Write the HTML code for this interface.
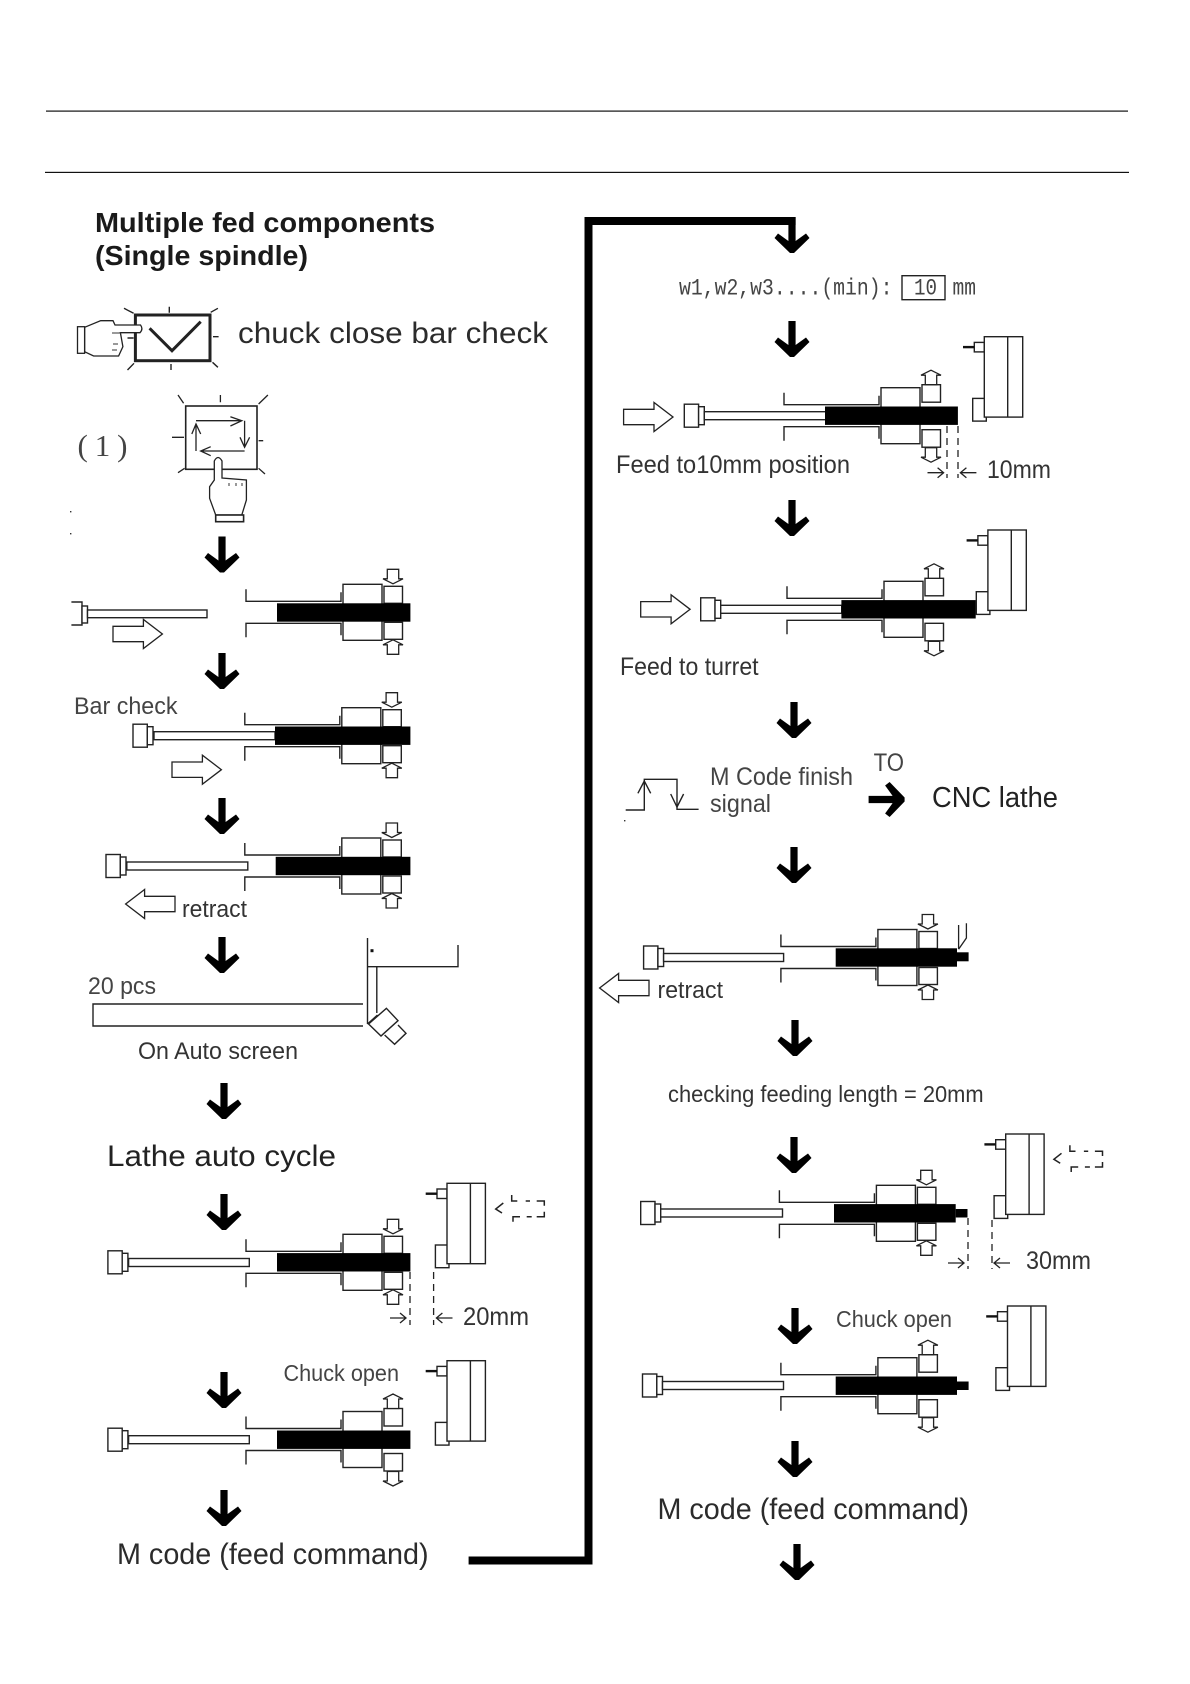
<!DOCTYPE html>
<html lang="en"><head><meta charset="utf-8"><title>Multiple fed components</title>
<style>html,body{margin:0;padding:0;background:#fff}svg{display:block}text{font-family:"Liberation Sans",sans-serif;fill:#2b2b2b}</style></head>
<body>
<svg xmlns="http://www.w3.org/2000/svg" width="1190" height="1684" viewBox="0 0 1190 1684">
<defs>
<path id="fat" d="M-3.6 0H3.6V24L14 16.5L17.5 21L2 36H-2L-17.5 21L-14 16.5L-3.6 24Z" fill="#000"/>
<path id="ha" d="M-5.7 0H5.7V9.5H10L0 14.5L-10 9.5H-5.7Z" fill="#fff" stroke="#222" stroke-width="1.3"/>
<path id="big" d="M0 -7.7H30.4V-14.5L49.4 0L30.4 14.5V7.7H0Z" fill="#fff" stroke="#222" stroke-width="1.3"/>
<path id="dash" d="M0 -3.3V-8H7.6M14.3 -8H18.6M27 -8H32.6V-14M41 -6L48.6 0L42.3 4M0 2.7V7.7H7.6M12.6 7.7H17.6M24.3 7.7H31.3V12.7" fill="none" stroke="#222" stroke-width="1.5"/>
<g id="base" fill="none" stroke="#222" stroke-width="1.4">
 <path d="M-97 -23V-11H-2V-20M-97 25V11H-2V23"/>
 <rect x="0" y="-28" width="39" height="56"/>
</g>
<g id="closed" stroke="#222" stroke-width="1.4" fill="#fff">
 <rect x="41" y="-26" width="18.5" height="17"/><rect x="41" y="10" width="18.5" height="17"/>
 <use href="#ha" x="50" y="-43"/>
 <use href="#ha" transform="translate(50,42) scale(1,-1)"/>
</g>
<g id="open" stroke="#222" stroke-width="1.4" fill="#fff">
 <rect x="41" y="-31" width="18.5" height="17.5"/><rect x="41" y="14" width="18.5" height="17.5"/>
 <use href="#ha" transform="translate(50,-31) scale(1,-1)"/>
 <use href="#ha" x="50" y="32"/>
</g>
<g id="push" fill="#fff" stroke="#222" stroke-width="1.4">
 <rect x="0" y="-11.5" width="14.3" height="23"/><rect x="14.3" y="-9" width="5.7" height="18"/>
</g>
<g id="tur" fill="#fff" stroke="#222" stroke-width="1.4">
 <rect x="-10" y="5.7" width="10" height="9.5"/>
 <rect x="-11.6" y="61.7" width="13.6" height="22.7"/>
 <rect x="0" y="0" width="38.4" height="80.4"/>
 <path d="M23.4 0V80.4" fill="none"/>
 <rect x="-21.3" y="9.2" width="11.3" height="2.4" fill="#111" stroke="none"/>
</g>
</defs>

<!-- header rules -->
<rect x="46" y="110.5" width="1082" height="1.2" fill="#111"/>
<rect x="45" y="171.8" width="1084" height="1.2" fill="#111"/>

<!-- thick connector -->
<path d="M468.6 1560.5H588.5V221H795.6" fill="none" stroke="#000" stroke-width="8"/>

<!-- heading -->
<text x="95" y="232" font-size="28" font-weight="bold" textLength="340" lengthAdjust="spacingAndGlyphs" style="fill:#1a1a1a">Multiple fed components</text>
<text x="95" y="265" font-size="28" font-weight="bold" textLength="213" lengthAdjust="spacingAndGlyphs" style="fill:#1a1a1a">(Single spindle)</text>

<!-- check button with hand -->
<g fill="none" stroke="#222" stroke-width="1.4">
 <path d="M124 308.3L133.6 313.3M169.3 306.7V312.7M210.7 312.3L217.9 308.3M213 336.7H218.6M212.5 362.3L217.9 367.3M171 364V370M127.5 370L134 363.3M127.5 338H133.6"/>
</g>
<rect x="135.4" y="315" width="74.6" height="45.7" fill="none" stroke="#222" stroke-width="3"/>
<path d="M149.6 328.3L172 350.7L200.7 321.7" fill="none" stroke="#222" stroke-width="3"/>
<path d="M84.6 327.3L100.7 320.7H113L115 325H140.5Q143.5 329 140 332.7H120.4L122.9 346.7L118.6 356H93.6L84.6 351.7Z" fill="#fff" stroke="#222" stroke-width="1.3"/>
<rect x="77.5" y="326.7" width="7.1" height="26.6" fill="#fff" stroke="#222" stroke-width="1.3"/>
<path d="M112 333H121M113 344H118M112 350H117" stroke="#333" stroke-width="1" fill="none"/>
<text x="238" y="343" font-size="30" textLength="310" lengthAdjust="spacingAndGlyphs">chuck close bar check</text>

<!-- (1) screen with hand -->
<text x="77.5" y="456" font-size="31" textLength="50" lengthAdjust="spacing" style="font-family:'Liberation Serif',serif;fill:#444">( 1 )</text>
<rect x="185.7" y="406" width="71.3" height="63.3" fill="none" stroke="#222" stroke-width="1.6"/>
<g fill="none" stroke="#222" stroke-width="1.3">
 <path d="M178 395L183.6 403.3M220.4 395V402.3M267.9 395L258.6 404M172 437.3H184M258.6 440.7H263.2M178 472.7L184.6 468.3M258.6 468.3L265 474"/>
 <path d="M196 420.7H241.8M230.4 416.7L241.8 420.7L230.4 426"/>
 <path d="M244.6 420.7V447.3M240 437.3L244.6 447.3L249.6 437.3"/>
 <path d="M244.6 451H200.7M210.7 446.7L200.7 451L210.7 455.7"/>
 <path d="M196 451V424M191.8 434L196 424L200.7 434"/>
</g>
<path d="M214.3 461Q218 454 222 461V478L246.4 480V500L241.8 515H215.7L209.6 498.3V486.7L214.3 480Z" fill="#fff" stroke="#222" stroke-width="1.3"/>
<rect x="215.7" y="515" width="27.9" height="6.7" fill="#fff" stroke="#222" stroke-width="1.6"/>
<path d="M229 483V486M236 483V486M242 483V486" stroke="#333" stroke-width="1"/>
<rect x="70" y="511" width="1.4" height="1.4" fill="#333"/><rect x="70" y="533" width="1.4" height="1.4" fill="#333"/><rect x="624" y="820" width="1.4" height="1.4" fill="#333"/>

<!-- fat down arrows -->
<use href="#fat" x="222" y="536.5"/><use href="#fat" x="222" y="653"/><use href="#fat" x="222" y="798"/><use href="#fat" x="222" y="937"/>
<use href="#fat" x="224" y="1083"/><use href="#fat" x="224" y="1194"/><use href="#fat" x="224" y="1372"/><use href="#fat" x="224" y="1490"/>
<use href="#fat" x="792" y="217"/><use href="#fat" x="792" y="321"/><use href="#fat" x="792" y="500"/><use href="#fat" x="794" y="702"/><use href="#fat" x="794" y="847"/>
<use href="#fat" x="795" y="1020"/><use href="#fat" x="794" y="1137"/><use href="#fat" x="795" y="1308"/><use href="#fat" x="795" y="1441"/><use href="#fat" x="797" y="1544"/>

<!-- A -->
<path d="M71.4 602H82V625H71.4" fill="none" stroke="#222" stroke-width="1.4"/>
<rect x="82" y="606" width="5.5" height="17" fill="#fff" stroke="#222" stroke-width="1.4"/>
<rect x="87.5" y="610" width="119.5" height="7.7" fill="#fff" stroke="#222" stroke-width="1.4"/>
<use href="#big" x="113" y="634"/>
<g transform="translate(343,612.3)"><use href="#base"/><use href="#closed"/></g>
<rect x="277" y="603.3" width="133.4" height="18.4" fill="#000"/>

<!-- B Bar check -->
<text x="74" y="714" font-size="24" textLength="103.5" lengthAdjust="spacingAndGlyphs" style="fill:#444">Bar check</text>
<use href="#push" x="133" y="735.7"/>
<rect x="154" y="731.7" width="121" height="8" fill="#fff" stroke="#222" stroke-width="1.4"/>
<use href="#big" x="172" y="769.7"/>
<g transform="translate(341.8,735.7)"><use href="#base"/><use href="#closed"/></g>
<rect x="275" y="726.5" width="135.4" height="18.4" fill="#000"/>

<!-- C retract -->
<use href="#push" x="106" y="866"/>
<rect x="126.8" y="862" width="121" height="8" fill="#fff" stroke="#222" stroke-width="1.4"/>
<use href="#big" transform="translate(175,904) scale(-1,1)"/>
<text x="182" y="917" font-size="24" textLength="65" lengthAdjust="spacingAndGlyphs" style="fill:#333">retract</text>
<g transform="translate(341.8,866)"><use href="#base"/><use href="#closed"/></g>
<rect x="275.7" y="856.8" width="134.7" height="18.4" fill="#000"/>

<!-- D 20 pcs -->
<text x="88" y="994" font-size="24" textLength="68" lengthAdjust="spacingAndGlyphs" style="fill:#444">20 pcs</text>
<g fill="none" stroke="#222" stroke-width="1.4">
 <path d="M363 1004H93V1026H363"/>
 <path d="M367.5 938V1024M376.8 966.7V1013M367.5 966.7H458V945M367.5 1024L377.5 1015"/>
 <path d="M386.4 1008.3L398 1020.7L381 1036L368.6 1024Z"/>
 <path d="M398 1025L406 1033.3L394.6 1044.3L384.6 1035"/>
</g>
<rect x="370.5" y="949.2" width="3" height="3" fill="#111"/>
<text x="138" y="1059" font-size="24" textLength="160" lengthAdjust="spacingAndGlyphs" style="fill:#333">On Auto screen</text>

<text x="107" y="1166" font-size="30" textLength="229" lengthAdjust="spacingAndGlyphs" style="fill:#222">Lathe auto cycle</text>

<!-- E -->
<use href="#push" x="107.9" y="1262.3"/>
<rect x="128.6" y="1258.5" width="120.7" height="8" fill="#fff" stroke="#222" stroke-width="1.4"/>
<g transform="translate(343,1262.3)"><use href="#base"/><use href="#closed"/></g>
<rect x="277" y="1253.1" width="133.4" height="18.4" fill="#000"/>
<use href="#tur" x="447" y="1183.3"/>
<use href="#dash" transform="translate(544.3,1209) scale(-1,1)"/>
<g fill="none" stroke="#222" stroke-width="1.3">
 <path d="M410 1272V1325M433.6 1272V1325" stroke-dasharray="7 5"/>
 <path d="M390 1318H406M400 1313L406 1318L400 1323"/>
 <path d="M436.4 1318H452.5M442.4 1313L436.4 1318L442.4 1323"/>
</g>
<text x="463" y="1325" font-size="25" textLength="66" lengthAdjust="spacingAndGlyphs" style="fill:#333">20mm</text>

<!-- F -->
<text x="283.5" y="1381" font-size="23" textLength="115.5" lengthAdjust="spacingAndGlyphs" style="fill:#444">Chuck open</text>
<use href="#push" x="107.9" y="1439.7"/>
<rect x="128.6" y="1435.7" width="120.7" height="8" fill="#fff" stroke="#222" stroke-width="1.4"/>
<g transform="translate(343,1439.5)"><use href="#base"/><use href="#open"/></g>
<rect x="277" y="1430.5" width="133.4" height="18.4" fill="#000"/>
<use href="#tur" x="447" y="1360.7"/>
<text x="117" y="1564" font-size="30" textLength="311.6" lengthAdjust="spacingAndGlyphs">M code (feed command)</text>

<!-- w1 line -->
<text x="679" y="294.5" font-size="23" textLength="213.5" lengthAdjust="spacingAndGlyphs" style="font-family:'Liberation Mono',monospace;fill:#444">w1,w2,w3....(min):</text>
<rect x="902" y="275.7" width="43" height="24" fill="none" stroke="#222" stroke-width="1.4"/>
<text x="914" y="294.5" font-size="23" textLength="23" lengthAdjust="spacingAndGlyphs" style="font-family:'Liberation Mono',monospace;fill:#444">10</text>
<text x="952.5" y="294.5" font-size="23" textLength="23.5" lengthAdjust="spacingAndGlyphs" style="font-family:'Liberation Mono',monospace;fill:#444">mm</text>

<!-- G -->
<use href="#big" x="623.6" y="417"/>
<use href="#push" x="684.3" y="415.7"/>
<rect x="704.3" y="411.7" width="122" height="8" fill="#fff" stroke="#222" stroke-width="1.4"/>
<g transform="translate(881,415.7)"><use href="#base"/><use href="#open"/></g>
<rect x="825" y="406.5" width="132.9" height="18.4" fill="#000"/>
<use href="#tur" x="984.3" y="336.7"/>
<g fill="none" stroke="#222" stroke-width="1.3">
 <path d="M947 426V478M958 426V478" stroke-dasharray="7 5"/>
 <path d="M927.5 472.7H943.6M937.6 467.7L943.6 472.7L937.6 477.7"/>
 <path d="M960.4 472.7H976.4M966.4 467.7L960.4 472.7L966.4 477.7"/>
</g>
<text x="616" y="473" font-size="25" textLength="234" lengthAdjust="spacingAndGlyphs" style="fill:#333">Feed to10mm position</text>
<text x="987" y="478" font-size="25" textLength="64" lengthAdjust="spacingAndGlyphs" style="fill:#333">10mm</text>

<!-- H -->
<use href="#big" x="640.7" y="609.3"/>
<use href="#push" x="700.7" y="609.3"/>
<rect x="720.7" y="605.3" width="121" height="8" fill="#fff" stroke="#222" stroke-width="1.4"/>
<g transform="translate(884,609.3)"><use href="#base"/><use href="#open"/></g>
<use href="#tur" x="987.9" y="530"/>
<rect x="841.4" y="600.1" width="134.3" height="18.4" fill="#000"/>
<text x="620" y="675" font-size="25" textLength="138.6" lengthAdjust="spacingAndGlyphs" style="fill:#333">Feed to turret</text>

<!-- signal -->
<g fill="none" stroke="#222" stroke-width="1.4">
 <path d="M625.7 810H644.3V779.3H677V809.3H698.6"/>
 <path d="M637.9 793.3L644.3 781L650.7 793.3M670.7 794L677 807L683.6 794"/>
</g>
<text x="710" y="785" font-size="25" textLength="143" lengthAdjust="spacingAndGlyphs" style="fill:#444">M Code finish</text>
<text x="710" y="812" font-size="25" textLength="61" lengthAdjust="spacingAndGlyphs" style="fill:#444">signal</text>
<text x="873.6" y="771" font-size="25" textLength="30.4" lengthAdjust="spacingAndGlyphs" style="fill:#444">TO</text>
<use href="#fat" transform="translate(868.6,799.5) rotate(-90)"/>
<text x="932" y="807" font-size="29" textLength="126" lengthAdjust="spacingAndGlyphs" style="fill:#222">CNC lathe</text>

<!-- I retract -->
<use href="#push" x="643.6" y="957.5"/>
<rect x="663.6" y="953.5" width="120" height="8" fill="#fff" stroke="#222" stroke-width="1.4"/>
<g transform="translate(877.9,957.5)"><use href="#base"/><use href="#closed"/></g>
<rect x="835.7" y="948.3" width="121.3" height="18.4" fill="#000"/>
<rect x="957" y="952.3" width="11.6" height="9" fill="#000"/>
<path d="M958.6 949V925M966.4 923.3V938L958.6 949.3" fill="none" stroke="#222" stroke-width="1.3"/>
<use href="#big" transform="translate(649,988) scale(-1,1)"/>
<text x="657.5" y="998" font-size="24" textLength="65.5" lengthAdjust="spacingAndGlyphs" style="fill:#333">retract</text>

<text x="668" y="1102" font-size="23" textLength="315.6" lengthAdjust="spacingAndGlyphs" style="fill:#333">checking feeding length = 20mm</text>

<!-- J -->
<use href="#push" x="640.7" y="1213"/>
<rect x="660.7" y="1209" width="121.8" height="8" fill="#fff" stroke="#222" stroke-width="1.4"/>
<g transform="translate(876.4,1213.3)"><use href="#base"/><use href="#closed"/></g>
<rect x="834" y="1204.1" width="121.7" height="18.4" fill="#000"/>
<rect x="955.7" y="1209" width="11.8" height="8.5" fill="#000"/>
<use href="#tur" x="1005.7" y="1134"/>
<use href="#dash" transform="translate(1102.5,1159.3) scale(-1,1)"/>
<g fill="none" stroke="#222" stroke-width="1.3">
 <path d="M968 1218V1269M992 1220V1269" stroke-dasharray="7 5"/>
 <path d="M948 1263H964M958 1258L964 1263L958 1268"/>
 <path d="M994 1263H1010M1000 1258L994 1263L1000 1268"/>
</g>
<text x="1026" y="1269" font-size="25" textLength="65" lengthAdjust="spacingAndGlyphs" style="fill:#333">30mm</text>

<!-- K -->
<text x="836" y="1327" font-size="23" textLength="116" lengthAdjust="spacingAndGlyphs" style="fill:#444">Chuck open</text>
<use href="#push" x="642.5" y="1385.5"/>
<rect x="662.5" y="1381.5" width="121" height="8" fill="#fff" stroke="#222" stroke-width="1.4"/>
<g transform="translate(877.9,1385.7)"><use href="#base"/><use href="#open"/></g>
<rect x="835.7" y="1376.5" width="121.3" height="18.4" fill="#000"/>
<rect x="957" y="1381.5" width="11.6" height="8.5" fill="#000"/>
<use href="#tur" x="1007.5" y="1306"/>
<text x="657.5" y="1519" font-size="30" textLength="311.5" lengthAdjust="spacingAndGlyphs">M code (feed command)</text>
</svg>
</body></html>
